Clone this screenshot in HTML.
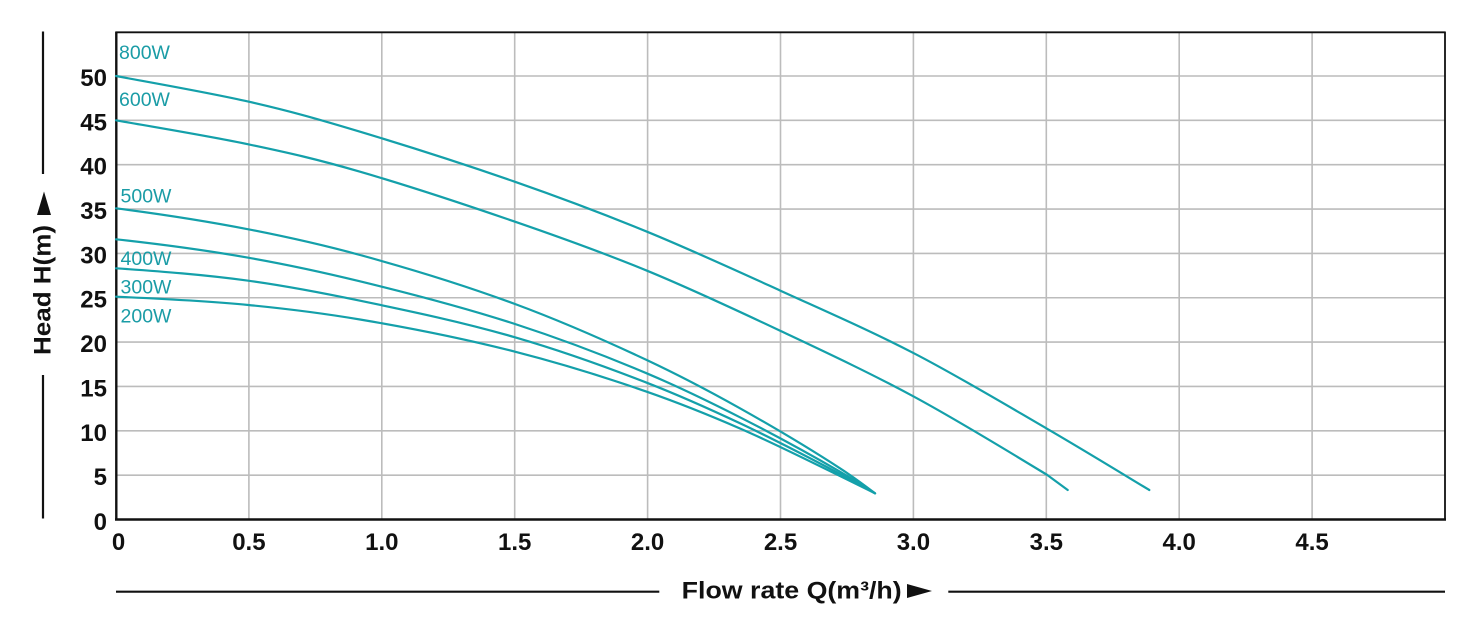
<!DOCTYPE html>
<html>
<head>
<meta charset="utf-8">
<style>
  html, body { margin:0; padding:0; background:#ffffff; }
  svg { display:block; }
  .tick { font-family:"Liberation Sans", sans-serif; font-weight:bold; font-size:24px; fill:#111; }
  .pw { font-family:"Liberation Sans", sans-serif; font-size:19.5px; fill:#1a9ca6; }
  .title { font-family:"Liberation Sans", sans-serif; font-weight:bold; font-size:24.5px; fill:#111; }
</style>
</head>
<body>
<svg width="1479" height="623" viewBox="0 0 1479 623" xmlns="http://www.w3.org/2000/svg">
  <rect x="0" y="0" width="1479" height="623" fill="#ffffff"/>

  <!-- grid -->
  <g stroke="#bcbcbc" stroke-width="1.6">
    <line x1="248.9" y1="32" x2="248.9" y2="519.5"/>
    <line x1="381.8" y1="32" x2="381.8" y2="519.5"/>
    <line x1="514.7" y1="32" x2="514.7" y2="519.5"/>
    <line x1="647.6" y1="32" x2="647.6" y2="519.5"/>
    <line x1="780.5" y1="32" x2="780.5" y2="519.5"/>
    <line x1="913.4" y1="32" x2="913.4" y2="519.5"/>
    <line x1="1046.3" y1="32" x2="1046.3" y2="519.5"/>
    <line x1="1179.2" y1="32" x2="1179.2" y2="519.5"/>
    <line x1="1312.1" y1="32" x2="1312.1" y2="519.5"/>

    <line x1="116" y1="475.15" x2="1445" y2="475.15"/>
    <line x1="116" y1="430.8" x2="1445" y2="430.8"/>
    <line x1="116" y1="386.45" x2="1445" y2="386.45"/>
    <line x1="116" y1="342.1" x2="1445" y2="342.1"/>
    <line x1="116" y1="297.75" x2="1445" y2="297.75"/>
    <line x1="116" y1="253.4" x2="1445" y2="253.4"/>
    <line x1="116" y1="209.05" x2="1445" y2="209.05"/>
    <line x1="116" y1="164.7" x2="1445" y2="164.7"/>
    <line x1="116" y1="120.35" x2="1445" y2="120.35"/>
    <line x1="116" y1="76" x2="1445" y2="76"/>
  </g>

  <!-- frame -->
  <g stroke="#111" fill="none">
    <line x1="116" y1="32.3" x2="1445" y2="32.3" stroke-width="1.8"/>
    <line x1="1445" y1="31.5" x2="1445" y2="520" stroke-width="1.8"/>
    <line x1="116.3" y1="31.5" x2="116.3" y2="520.5" stroke-width="2.4"/>
    <line x1="115" y1="519.5" x2="1446" y2="519.5" stroke-width="2.4"/>
  </g>

  <!-- curves -->
  <g fill="none" stroke="#14a0aa" stroke-width="2.2" stroke-linecap="round" stroke-linejoin="round">
    <!-- 800W -->
    <path d="M116,76 C138.15,80.28 208.23,92.42 248.9,101.7 C289.57,110.98 315.7,118.37 360,131.7 C404.3,145.03 466.87,165.03 514.7,181.7 C562.53,198.37 602.7,213.53 647,231.7 C691.3,249.87 736,270.43 780.5,290.7 C825,310.97 869.7,330.37 914,353.3 C958.3,376.23 1007.08,405.52 1046.3,428.3 C1085.52,451.08 1132.13,479.72 1149.3,490"/>
    <!-- 600W -->
    <path d="M116,120.3 C138.05,124.3 207.63,135.73 248.3,144.3 C288.97,152.87 315.55,158.8 360,171.7 C404.45,184.6 467.17,205.2 515,221.7 C562.83,238.2 602.72,252.48 647,270.7 C691.28,288.92 736.2,310 780.7,331 C825.2,352 869.57,372.7 914,396.7 C958.43,420.7 1021.68,459.45 1047.3,475 C1054.1,480 1060.9,485 1067.7,490"/>
    <!-- 500W -->
    <path d="M116,208.3 C160.1,214.03 204.2,220.7 248.3,229.3 C285.53,236.56 322.77,244.84 360,255 C411.67,269.1 463.33,284.88 515,304 C558.9,320.24 602.8,339.37 646.7,360 C677.8,374.62 708.9,390.88 740,408.3 C773.33,426.97 806.67,446.63 840,468.3 C851.67,475.89 863.33,484.43 875,493.3"/>
    <!-- 400W -->
    <path d="M116,239.3 C160.1,244.15 204.2,249.98 248.3,257.7 C285.53,264.22 322.77,272.25 360,281.3 C411.67,293.86 463.33,307.21 515,324 C558.9,338.27 602.8,354.73 646.7,373.3 C677.8,386.46 708.9,401.5 740,417.3 C773.33,434.23 806.67,452.37 840,471.7 C851.67,478.47 863.33,485.71 875,493.3"/>
    <!-- 300W -->
    <path d="M116,268.3 C160.1,271.39 204.2,274.66 248.3,280.7 C285.53,285.8 322.77,292.96 360,300.7 C411.67,311.45 463.33,322.32 515,337.3 C558.9,350.03 602.8,365.58 646.7,382.7 C677.8,394.83 708.9,408.65 740,423.3 C773.33,439 806.67,456.33 840,474 C851.67,480.19 863.33,486.65 875,493.3"/>
    <!-- 200W -->
    <path d="M116,296.7 C160.1,298.68 204.2,300.72 248.3,305 C285.53,308.61 322.77,313.21 360,319.5 C411.67,328.23 463.33,338.47 515,351.7 C558.9,362.94 602.8,376.38 646.7,391.7 C677.8,402.55 708.9,414.97 740,428.5 C773.33,443 806.67,459.83 840,476 C851.67,481.66 863.33,487.47 875,493.3"/>
  </g>

  <!-- power labels -->
  <text class="pw" x="119" y="59">800W</text>
  <text class="pw" x="119" y="106">600W</text>
  <text class="pw" x="120.5" y="202.5">500W</text>
  <text class="pw" x="120.5" y="265">400W</text>
  <text class="pw" x="120.5" y="293.5">300W</text>
  <text class="pw" x="120.5" y="322.5">200W</text>

  <!-- y tick labels -->
  <g class="tick" text-anchor="end">
    <text x="107" y="86">50</text>
    <text x="107" y="130.3">45</text>
    <text x="107" y="174.7">40</text>
    <text x="107" y="219">35</text>
    <text x="107" y="263.4">30</text>
    <text x="107" y="307.7">25</text>
    <text x="107" y="352.1">20</text>
    <text x="107" y="396.4">15</text>
    <text x="107" y="440.8">10</text>
    <text x="107" y="485.1">5</text>
    <text x="107" y="530">0</text>
  </g>

  <!-- x tick labels -->
  <g class="tick" text-anchor="middle">
    <text x="118.5" y="550">0</text>
    <text x="248.9" y="550">0.5</text>
    <text x="381.8" y="550">1.0</text>
    <text x="514.7" y="550">1.5</text>
    <text x="647.6" y="550">2.0</text>
    <text x="780.5" y="550">2.5</text>
    <text x="913.4" y="550">3.0</text>
    <text x="1046.3" y="550">3.5</text>
    <text x="1179.2" y="550">4.0</text>
    <text x="1312.1" y="550">4.5</text>
  </g>

  <!-- y axis title -->
  <line x1="43" y1="31.5" x2="43" y2="174" stroke="#111" stroke-width="2.2"/>
  <line x1="43" y1="375" x2="43" y2="518.5" stroke="#111" stroke-width="2.2"/>
  <polygon points="44,191.5 37,215 51,215" fill="#111"/>
  <text class="title" transform="translate(50.5,290) rotate(-90)" x="0" y="0" text-anchor="middle" textLength="130" lengthAdjust="spacingAndGlyphs">Head H(m)</text>

  <!-- x axis title -->
  <line x1="116" y1="591.7" x2="659.3" y2="591.7" stroke="#111" stroke-width="2.2"/>
  <line x1="948.3" y1="591.7" x2="1445" y2="591.7" stroke="#111" stroke-width="2.2"/>
  <text class="title" x="681.7" y="598.3" textLength="220" lengthAdjust="spacingAndGlyphs">Flow rate Q(m³/h)</text>
  <polygon points="907,584 907,598 932,591" fill="#111"/>
</svg>
</body>
</html>
